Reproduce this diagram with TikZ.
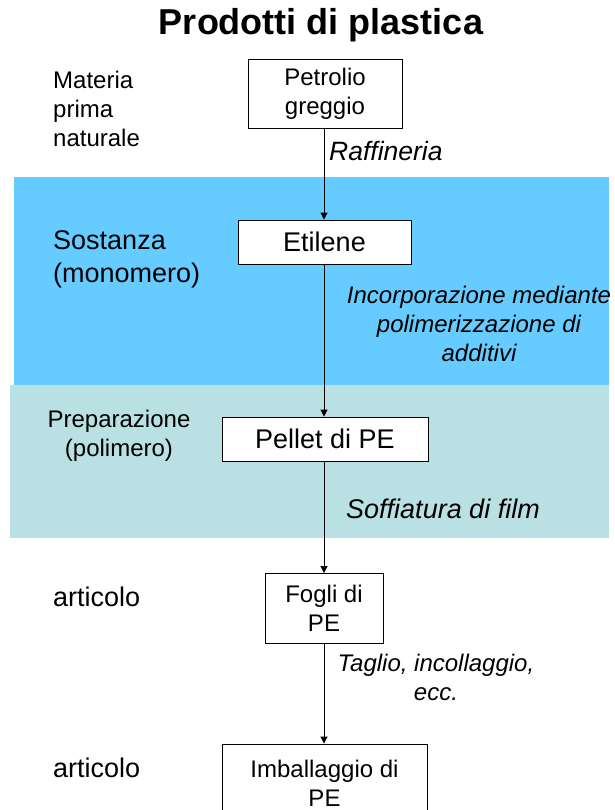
\documentclass[tikz,border=0pt]{standalone}
\usepackage{fontspec}
\setmainfont{Liberation Sans}
\usetikzlibrary{arrows.meta}
\definecolor{bandblue}{RGB}{102,204,255}
\definecolor{bandteal}{RGB}{185,224,227}
\begin{document}
\begin{tikzpicture}[x=1pt,y=-1pt,
  stepbox/.style={draw=black,line width=0.9pt,fill=white,inner sep=0pt,align=center,font=\fontsize{24}{29}\selectfont},
  bigbox/.style={stepbox,font=\fontsize{27}{32}\selectfont},
  lbl/.style={inner sep=0pt,align=left,anchor=west,font=\fontsize{24}{29}\selectfont},
  biglbl/.style={lbl,font=\fontsize{27}{33}\selectfont},
  proc/.style={inner sep=0pt,align=center,font=\fontsize{24}{29}\itshape\selectfont},
  arr/.style={line width=1pt,-{Triangle[length=7pt,width=7pt]}}]
\useasboundingbox (0,0) rectangle (614,810);
\clip (0,0) rectangle (614,810);
\fill[bandblue] (14,177) rectangle (609,385);
\fill[bandteal] (10,385) rectangle (609,538);
\node[font=\fontsize{36}{40}\bfseries\selectfont] (title) at (321,25) {Prodotti di plastica};
% boxes
\node[stepbox,minimum width=154pt,minimum height=69pt] (petrolio) at (325,94) {Petrolio\\greggio};
\node[bigbox,minimum width=173pt,minimum height=44pt] (etilene) at (324.5,242) {Etilene};
\node[bigbox,minimum width=206pt,minimum height=44pt] (pellet) at (325,439) {Pellet di PE};
\node[stepbox,minimum width=118pt,minimum height=70pt] (fogli) at (324,608.5) {Fogli di\\PE};
\node[stepbox,minimum width=205pt,minimum height=78pt] (imball) at (324.5,783) {Imballaggio di\\PE};
% arrows
\draw[arr] (petrolio.south -| fogli.north) -- (etilene.north -| fogli.north);
\draw[arr] (etilene.south -| fogli.north) -- (pellet.north -| fogli.north);
\draw[arr] (pellet.south -| fogli.north) -- (fogli.north);
\draw[arr] (fogli) -- (imball.north -| fogli.north);
% left labels
\node[lbl] (materia) at (53,109) {Materia\\prima\\naturale};
\node[biglbl] (sostanza) at (53,259) {Sostanza\\(monomero)};
\node[lbl,align=center,anchor=center] (prep) at (119,436) {Preparazione\\(polimero)};
\node[biglbl] (art1) at (53,597) {articolo};
\node[biglbl] (art2) at (53,768) {articolo};
% process labels
\node[proc,anchor=west,font=\fontsize{26.5}{30}\itshape\selectfont] (raff) at (329,151) {Raffineria};
\node[proc,font=\fontsize{24}{29}\itshape\selectfont] (incorp) at (479,324) {Incorporazione mediante\\polimerizzazione di\\additivi};
\node[proc,anchor=west,font=\fontsize{27}{30}\itshape\selectfont] (soff) at (346,509) {Soffiatura di film};
\node[proc] (taglio) at (436,677) {Taglio, incollaggio,\\ecc.};
\end{tikzpicture}
\end{document}
